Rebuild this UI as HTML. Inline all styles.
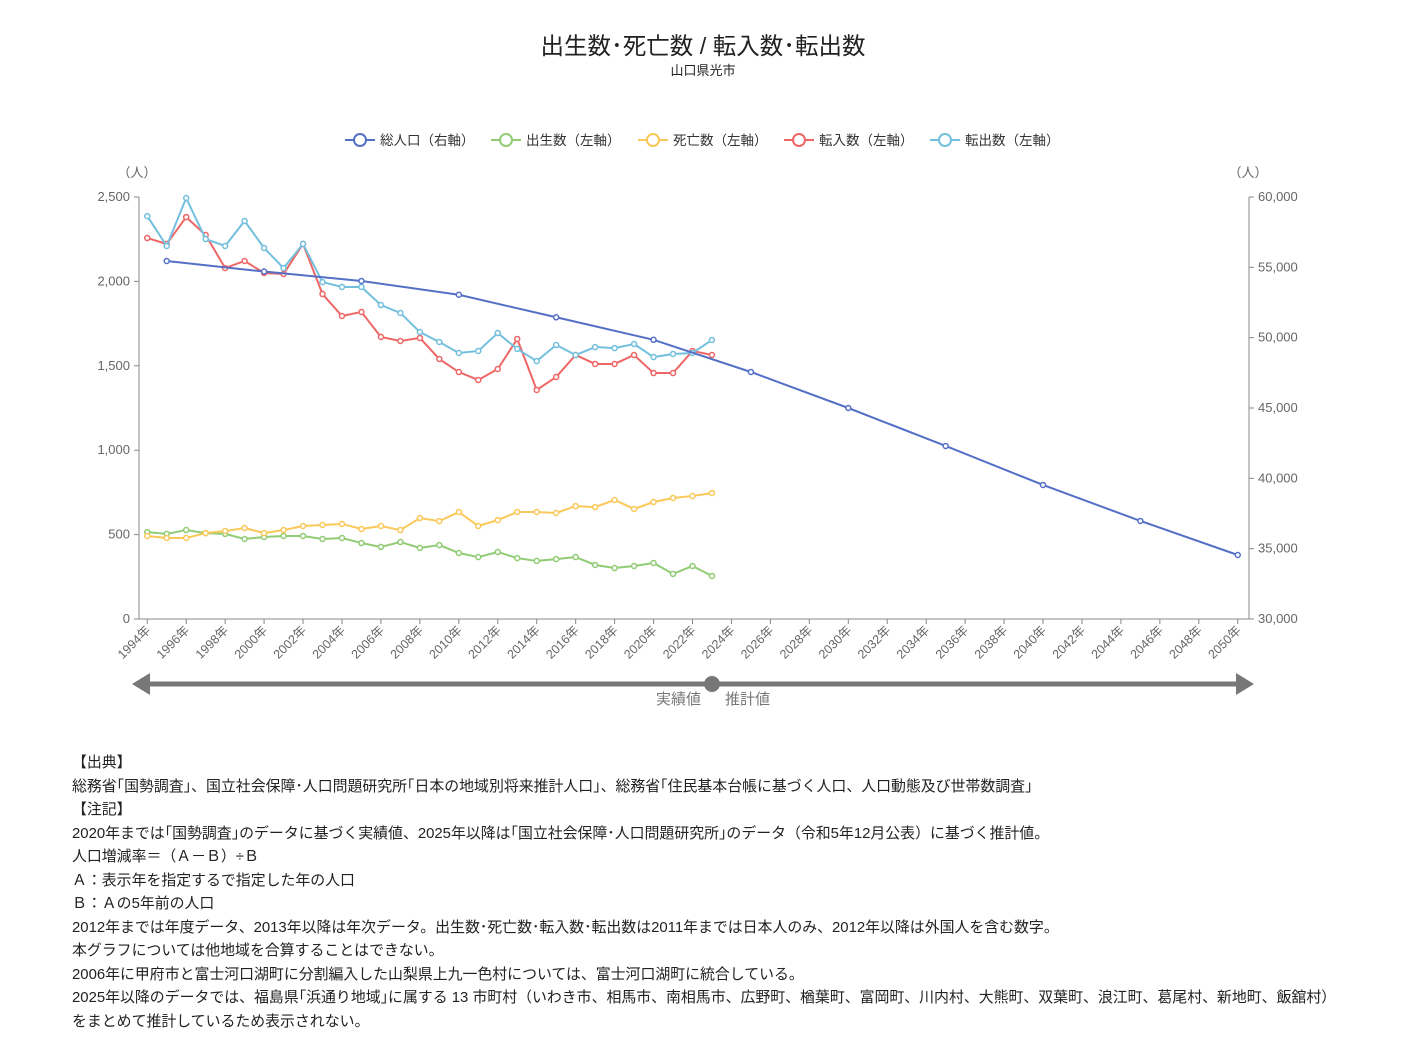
<!DOCTYPE html>
<html><head><meta charset="utf-8">
<style>
body{margin:0;background:#fff;font-family:"Liberation Sans","Noto Sans CJK JP",sans-serif;}
#notes{position:absolute;left:72px;top:752px;font-size:14.9px;line-height:23.5px;color:#222;white-space:nowrap;}
</style></head>
<body>
<svg id="chart" width="1407" height="740" style="position:absolute;left:0;top:0">
<text x="703" y="54" text-anchor="middle" font-size="23.5" fill="#222">出生数･死亡数 / 転入数･転出数</text>
<text x="703" y="75" text-anchor="middle" font-size="13" fill="#222">山口県光市</text>
<g id="legend"></g>
<text x="137" y="177" text-anchor="middle" font-size="13" fill="#666">（人）</text>
<text x="1248" y="177" text-anchor="middle" font-size="13" fill="#666">（人）</text>
<g id="axes"></g>
<g id="series"></g>
<g>
<line x1="145" y1="684" x2="1240" y2="684" stroke="#777" stroke-width="5"/>
<polygon points="132,684 150,673 150,695" fill="#777"/>
<polygon points="1254,684 1236,673 1236,695" fill="#777"/>
<circle cx="712" cy="684" r="8" fill="#777"/>
<text x="701" y="704" text-anchor="end" font-size="15" fill="#777">実績値</text>
<text x="725" y="704" font-size="15" fill="#777">推計値</text>
</g>
</svg>
<div id="notes">
【出典】<br>
総務省｢国勢調査｣、国立社会保障･人口問題研究所｢日本の地域別将来推計人口｣、総務省｢住民基本台帳に基づく人口、人口動態及び世帯数調査｣<br>
【注記】<br>
2020年までは｢国勢調査｣のデータに基づく実績値、2025年以降は｢国立社会保障･人口問題研究所｣のデータ（令和5年12月公表）に基づく推計値。<br>
人口増減率＝（Ａ－Ｂ）÷Ｂ<br>
Ａ：表示年を指定するで指定した年の人口<br>
Ｂ：Ａの5年前の人口<br>
2012年までは年度データ、2013年以降は年次データ。出生数･死亡数･転入数･転出数は2011年までは日本人のみ、2012年以降は外国人を含む数字。<br>
本グラフについては他地域を合算することはできない。<br>
2006年に甲府市と富士河口湖町に分割編入した山梨県上九一色村については、富士河口湖町に統合している。<br>
2025年以降のデータでは、福島県｢浜通り地域｣に属する 13 市町村（いわき市、相馬市、南相馬市、広野町、楢葉町、富岡町、川内村、大熊町、双葉町、浪江町、葛尾村、新地町、飯舘村）<br>
をまとめて推計しているため表示されない。
</div>
<script>
const firstYear = 1994, lastYear = 2050;
const leftTicks = [0,500,1000,1500,2000,2500];
const rightTicks = [30000,35000,40000,45000,50000,55000,60000];
const popYears = [1995,2000,2005,2010,2015,2020,2025,2030,2035,2040,2045,2050];
const popValues = [55450,54700,54030,53050,51450,49850,47560,45000,42300,39530,36970,34550];
const births = [515,504,527,509,504,474,486,492,492,474,480,450,427,456,421,438,391,367,397,361,344,355,367,320,302,314,332,267,314,255];
const deaths = [492,480,480,509,521,539,509,527,551,557,563,533,551,527,598,580,634,551,586,634,634,628,669,663,705,652,693,717,729,746];
const moveIn = [2257,2222,2381,2275,2079,2121,2050,2044,2222,1925,1795,1819,1671,1647,1665,1540,1463,1416,1481,1659,1357,1434,1564,1511,1511,1564,1457,1457,1588,1564];
const moveOut = [2387,2210,2494,2251,2210,2358,2198,2079,2222,1996,1967,1967,1860,1813,1700,1641,1576,1588,1694,1600,1528,1623,1564,1611,1605,1629,1552,1570,1576,1653];
const seriesNames = ['総人口（右軸）','出生数（左軸）','死亡数（左軸）','転入数（左軸）','転出数（左軸）'];
const seriesColors = ['#5470c6','#91cc75','#fac858','#ee6666','#73c0de'];

const NS='http://www.w3.org/2000/svg';
const X0=139,X1=1249,Y0=619,Y1=197;
const nCat=lastYear-firstYear+1, bw=(X1-X0)/nCat;
const xs=y=>X0+bw*(y-firstYear+0.5)-1.5;
const yl=v=>Y0-(v/2500)*(Y0-Y1);
const yr=v=>Y0-((v-30000)/30000)*(Y0-Y1);
function el(t,a,p){const e=document.createElementNS(NS,t);for(const k in a)e.setAttribute(k,a[k]);p.appendChild(e);return e;}
const axes=document.getElementById('axes');
el('line',{x1:X0,y1:Y0,x2:X0,y2:Y1,stroke:'#888'},axes);
el('line',{x1:X1,y1:Y0,x2:X1,y2:Y1,stroke:'#888'},axes);
el('line',{x1:X0,y1:Y0,x2:X1,y2:Y0,stroke:'#888'},axes);
leftTicks.forEach(v=>{const y=yl(v);
 el('line',{x1:X0-5,y1:y,x2:X0,y2:y,stroke:'#888'},axes);
 const t=el('text',{x:X0-9,y:y+4,'text-anchor':'end','font-size':13,fill:'#666'},axes);
 
 
 t.textContent=v.toLocaleString('en-US');});
rightTicks.forEach(v=>{const y=yr(v);
 el('line',{x1:X1,y1:y,x2:X1+5,y2:y,stroke:'#888'},axes);
 const t=el('text',{x:X1+9,y:y+4,'font-size':13,fill:'#666'},axes);
 
 
 t.textContent=v.toLocaleString('en-US');});
for(let yr2=firstYear;yr2<=lastYear;yr2+=2){const x=xs(yr2);
 el('line',{x1:x,y1:Y0,x2:x,y2:Y0+5,stroke:'#888'},axes);
 const t=el('text',{x:x+4,y:Y0+12,'text-anchor':'end','font-size':12.5,fill:'#666',transform:`rotate(-45 ${x+4} ${Y0+12})`},axes);
 
 
 t.textContent=yr2+'年';}
const sg=document.getElementById('series');
function draw(pts,color,name){
 const g=el('g',{},sg);
 
 
 el('polyline',{points:pts.map(p=>p.join(',')).join(' '),fill:'none',stroke:color,'stroke-width':2},g);
 pts.forEach(p=>{const c=el('circle',{cx:p[0],cy:p[1],r:2.5,fill:'#fff',stroke:color,'stroke-width':1.5},g);
  
  });
}
const yrs=births.map((_,i)=>firstYear+i);
draw(yrs.map((y,i)=>[xs(y),yl(births[i])]),seriesColors[1],'births-series');
draw(yrs.map((y,i)=>[xs(y),yl(deaths[i])]),seriesColors[2],'deaths-series');
draw(yrs.map((y,i)=>[xs(y),yl(moveIn[i])]),seriesColors[3],'move-in-series');
draw(yrs.map((y,i)=>[xs(y),yl(moveOut[i])]),seriesColors[4],'move-out-series');
draw(popYears.map((y,i)=>[xs(y),yr(popValues[i])]),seriesColors[0],'population-series');
const lg=document.getElementById('legend');
const lx=[345,491,638,784,930];
seriesNames.forEach((n,i)=>{const g=el('g',{},lg);
 
 
 el('line',{x1:lx[i],y1:140,x2:lx[i]+30,y2:140,stroke:seriesColors[i],'stroke-width':2},g);
 el('circle',{cx:lx[i]+15,cy:140,r:6,fill:'#fff',stroke:seriesColors[i],'stroke-width':2},g);
 const t=el('text',{x:lx[i]+35,y:145,'font-size':13.5,fill:'#333'},g);t.textContent=n;});
</script>
</body></html>
